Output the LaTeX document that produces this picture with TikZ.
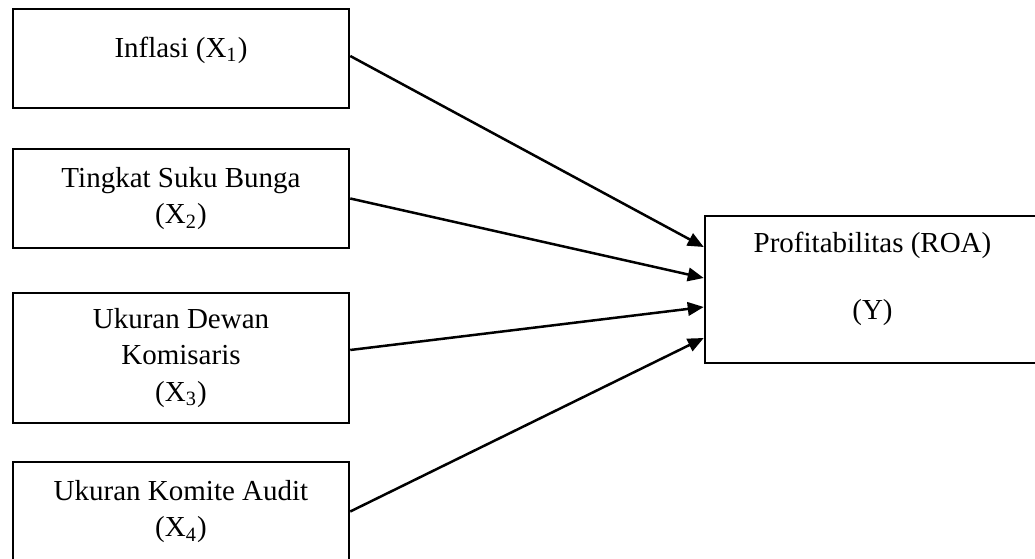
\documentclass[tikz,border=0pt]{standalone}
\usepackage{fontspec}
\setmainfont{Liberation Serif}
\usetikzlibrary{positioning, shapes, arrows.meta, calc}

\tikzset{
  varbox/.style={rectangle, draw, line width=1pt, align=center,
    minimum width=134.4pt, inner sep=0pt,
    font=\fontsize{11.6}{14.6}\selectfont},
  link/.style={-{Triangle[length=6.4pt, width=5.4pt]}, line width=1pt}
}

\begin{document}
\begin{tikzpicture}[x=0.4pt, y=-0.4pt]
                  \clip (0,0) rectangle (1035,559);
                  % Nodes
                  \node[varbox, minimum height=39.6pt, text depth=9.3pt] (x1) at (181,58.5) {Inflasi (X\textsubscript{1})};
                  \node[varbox, minimum height=39.6pt] (x2) at (181,198.5) {Tingkat Suku Bunga\\(X\textsubscript{2})};
                  \node[varbox, minimum height=52pt] (x3) at (181,358) {Ukuran Dewan\\Komisaris\\(X\textsubscript{3})};
                  \node[varbox, minimum height=39.6pt] (x4) at (181,511.5) {Ukuran Komite Audit\\(X\textsubscript{4})};
                  \node[varbox, minimum width=134pt, minimum height=58.8pt, text depth=11pt] (roa) at (872.5,289.5) {Profitabilitas (ROA)\\[12.4pt](Y)};

                  % Arrows
                  \foreach \i/\d in {1/-42.5,2/-11.5,3/17.5,4/48.5}
                  \coordinate (in\i) at ($(roa.west)+(0,\d)$);
                  \draw[link] ([yshift=1pt]x1.east) -- (in1);
                  \draw[link] (x2.east) -- (in2);
                  \draw[link] ([yshift=3.2pt]x3.east) -- (in3);
                  \draw[link] (x4.east) -- (in4);
              \end{tikzpicture}
\end{document}
